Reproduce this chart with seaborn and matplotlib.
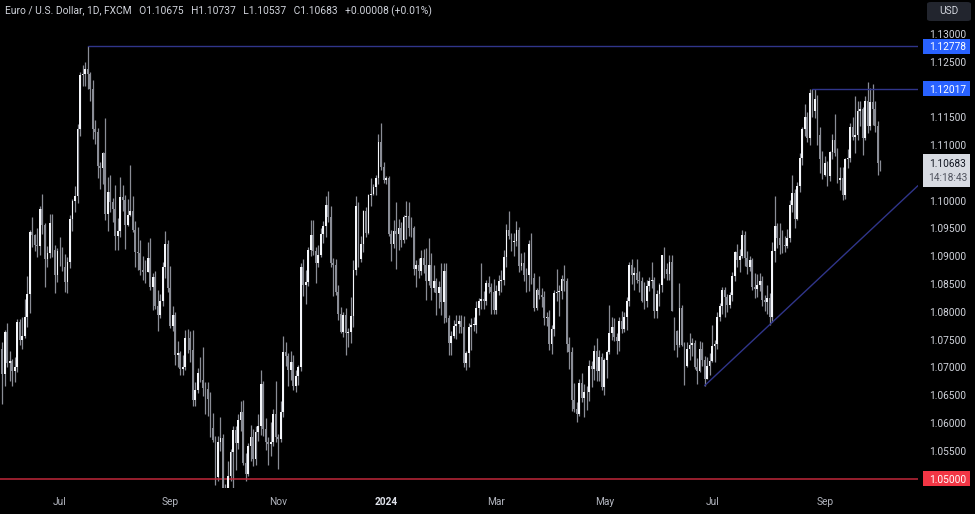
import numpy as np
import pandas as pd
import matplotlib.pyplot as plt
import matplotlib.transforms as mtransforms
from matplotlib.patches import Rectangle, FancyBboxPatch
import seaborn as sns

# EUR/USD daily candles (FXCM), one row per weekday from 31 May 2023 to 2 Oct 2024
opens = [
    1.0733,
    1.0689, 1.0763, 1.0708, 1.0712, 1.0693, 1.0700, 1.0782, 1.0749, 1.0757, 1.0791, 1.0832, 1.0943, 1.0938, 1.0921, 1.0918, 1.0985, 1.0956, 1.0895, 1.0905, 1.0960, 1.0912, 1.0866,
    1.0909, 1.0910, 1.0881, 1.0854, 1.0889, 1.0967, 1.0999, 1.1009, 1.1129, 1.1226, 1.1228, 1.1236, 1.1227, 1.1200, 1.1129, 1.1124, 1.1063, 1.1058, 1.1085, 1.0976, 1.1015,
    1.0997, 1.0985, 1.0936, 1.0946, 1.1007, 1.1002, 1.0956, 1.0975, 1.0981, 1.0947, 1.0907, 1.0905, 1.0875, 1.0871, 1.0872, 1.0896, 1.0845, 1.0862, 1.0810, 1.0795, 1.0819, 1.0880, 1.0922,
    1.0843, 1.0775, 1.0794, 1.0722, 1.0726, 1.0698, 1.0700, 1.0752, 1.0753, 1.0732, 1.0642, 1.0659, 1.0690, 1.0678, 1.0663, 1.0661, 1.0643, 1.0591, 1.0570, 1.0502, 1.0566,
    1.0573, 1.0479, 1.0467, 1.0504, 1.0548, 1.0588, 1.0564, 1.0605, 1.0620, 1.0528, 1.0508, 1.0558, 1.0575, 1.0535, 1.0584, 1.0594, 1.0670, 1.0590, 1.0565, 1.0563, 1.0566, 1.0617,
    1.0575, 1.0571, 1.0620, 1.0728, 1.0721, 1.0695, 1.0710, 1.0667, 1.0685, 1.0700, 1.0880, 1.0848, 1.0853, 1.0912, 1.0938, 1.0909, 1.0887, 1.0903, 1.0940, 1.0954, 1.0993, 1.0970,
    1.0888, 1.0884, 1.0836, 1.0796, 1.0763, 1.0794, 1.0762, 1.0763, 1.0792, 1.0876, 1.0991, 1.0895, 1.0922, 1.0981, 1.0941, 1.1010, 1.1012, 1.1025, 1.1040, 1.1105, 1.1061,
    1.1038, 1.1040, 1.0940, 1.0922, 1.0946, 1.0940, 1.0950, 1.0930, 1.0971, 1.0973, 1.0950, 1.0950, 1.0877, 1.0884, 1.0874, 1.0897, 1.0885, 1.0855, 1.0885, 1.0842, 1.0855, 1.0834, 1.0845,
    1.0818, 1.0873, 1.0789, 1.0743, 1.0756, 1.0775, 1.0778, 1.0784, 1.0772, 1.0708, 1.0725, 1.0773, 1.0777, 1.0777, 1.0807, 1.0820, 1.0823, 1.0820, 1.0851, 1.0845, 1.0835,
    1.0804, 1.0838, 1.0855, 1.0857, 1.0899, 1.0947, 1.0937, 1.0926, 1.0927, 1.0948, 1.0882, 1.0887, 1.0867, 1.0866, 1.0922, 1.0860, 1.0807, 1.0839, 1.0830, 1.0827, 1.0789,
    1.0790, 1.0742, 1.0769, 1.0834, 1.0836, 1.0838, 1.0859, 1.0856, 1.0742, 1.0728, 1.0642, 1.0625, 1.0617, 1.0672, 1.0645, 1.0655, 1.0655, 1.0703, 1.0697, 1.0729, 1.0693, 1.0719,
    1.0665, 1.0713, 1.0728, 1.0761, 1.0773, 1.0754, 1.0747, 1.0783, 1.0769, 1.0790, 1.0820, 1.0884, 1.0867, 1.0870, 1.0857, 1.0855, 1.0820, 1.0819, 1.0847, 1.0856, 1.0857, 1.0801, 1.0832,
    1.0849, 1.0902, 1.0877, 1.0868, 1.0890, 1.0775, 1.0765, 1.0741, 1.0807, 1.0741, 1.0703, 1.0733, 1.0741, 1.0744, 1.0701, 1.0693, 1.0733, 1.0714, 1.0680, 1.0702,
    1.0711, 1.0739, 1.0742, 1.0790, 1.0811, 1.0840, 1.0826, 1.0813, 1.0830, 1.0865, 1.0907, 1.0893, 1.0901, 1.0938, 1.0897, 1.0881, 1.0893, 1.0845, 1.0841, 1.0848, 1.0855, 1.0821, 1.0818,
    1.0825, 1.0790, 1.0910, 1.0954, 1.0932, 1.0921, 1.0920, 1.0918, 1.0933, 1.0993, 1.1013, 1.0967, 1.1027, 1.1076, 1.1129, 1.1150, 1.1113, 1.1193, 1.1161, 1.1183, 1.1119, 1.1075,
    1.1047, 1.1068, 1.1045, 1.1088, 1.1110, 1.1085, 1.1038, 1.1040, 1.1010, 1.1075, 1.1076, 1.1133, 1.1115, 1.1118, 1.1162, 1.1164, 1.1112, 1.1180, 1.1135, 1.1178, 1.1164,
    1.1135, 1.10675,
]
highs = [
    1.0746,
    1.0768, 1.0779, 1.0730, 1.0715, 1.0718, 1.0787, 1.0787, 1.0790, 1.0823, 1.0865, 1.0947, 1.0970, 1.0940, 1.0950, 1.0990, 1.1012, 1.0960, 1.0919, 1.0976, 1.0976, 1.0920, 1.0915,
    1.0935, 1.0916, 1.0904, 1.0899, 1.0975, 1.1003, 1.1026, 1.1138, 1.1232, 1.1244, 1.1249, 1.12778, 1.1231, 1.1217, 1.1145, 1.1130, 1.1069, 1.1088, 1.1149, 1.1042, 1.1046,
    1.1005, 1.1028, 1.0968, 1.1042, 1.1028, 1.1010, 1.1003, 1.1065, 1.1009, 1.0963, 1.0953, 1.0930, 1.0900, 1.0893, 1.0926, 1.0932, 1.0870, 1.0874, 1.0840, 1.0832, 1.0890, 1.0945, 1.0930,
    1.0882, 1.0810, 1.0799, 1.0748, 1.0730, 1.0722, 1.0767, 1.0769, 1.0765, 1.0768, 1.0674, 1.0699, 1.0719, 1.0736, 1.0674, 1.0674, 1.0655, 1.0618, 1.0577, 1.0577, 1.0610,
    1.0580, 1.0490, 1.0532, 1.0553, 1.0594, 1.0595, 1.0616, 1.0640, 1.0641, 1.0546, 1.0564, 1.0596, 1.0590, 1.0595, 1.0616, 1.0695, 1.0676, 1.0609, 1.0574, 1.0602, 1.0625, 1.0675,
    1.0580, 1.0639, 1.0756, 1.0745, 1.0726, 1.0730, 1.0722, 1.0696, 1.0705, 1.0887, 1.0895, 1.0875, 1.0917, 1.0965, 1.0965, 1.0917, 1.0920, 1.0950, 1.0964, 1.1009, 1.1017, 1.0991,
    1.0896, 1.0895, 1.0848, 1.0808, 1.0800, 1.0806, 1.0771, 1.0826, 1.0894, 1.1009, 1.0998, 1.0937, 1.0984, 1.0988, 1.1012, 1.1040, 1.1030, 1.1046, 1.1120, 1.1139, 1.1070,
    1.1045, 1.1045, 1.0947, 1.0965, 1.0998, 1.0967, 1.0962, 1.0975, 1.0999, 1.0998, 1.0970, 1.0954, 1.0894, 1.0897, 1.0912, 1.0913, 1.0915, 1.0932, 1.0905, 1.0885, 1.0860, 1.0855, 1.0888,
    1.0888, 1.0888, 1.0795, 1.0765, 1.0786, 1.0794, 1.0794, 1.0794, 1.0793, 1.0729, 1.0780, 1.0788, 1.0790, 1.0820, 1.0825, 1.0888, 1.0838, 1.0857, 1.0864, 1.0852, 1.0859,
    1.0849, 1.0866, 1.0875, 1.0912, 1.0958, 1.0981, 1.0942, 1.0941, 1.0963, 1.0952, 1.0906, 1.0907, 1.0878, 1.0929, 1.0942, 1.0870, 1.0843, 1.0865, 1.0843, 1.0838, 1.0799,
    1.0803, 1.0777, 1.0840, 1.0877, 1.0849, 1.0867, 1.0885, 1.0861, 1.0755, 1.0736, 1.0672, 1.0638, 1.0680, 1.0690, 1.0670, 1.0666, 1.0713, 1.0712, 1.0740, 1.0753, 1.0732, 1.0725,
    1.0716, 1.0732, 1.0812, 1.0790, 1.0789, 1.0761, 1.0790, 1.0802, 1.0800, 1.0827, 1.0890, 1.0895, 1.0881, 1.0895, 1.0874, 1.0863, 1.0853, 1.0858, 1.0862, 1.0889, 1.0862, 1.0840, 1.0852,
    1.0903, 1.0916, 1.0888, 1.0902, 1.0902, 1.0790, 1.0768, 1.0852, 1.0813, 1.0745, 1.0745, 1.0761, 1.0753, 1.0749, 1.0717, 1.0748, 1.0745, 1.0720, 1.0718, 1.0725,
    1.0776, 1.0750, 1.0799, 1.0816, 1.0845, 1.0845, 1.0832, 1.0835, 1.0872, 1.0910, 1.0922, 1.0913, 1.0948, 1.0945, 1.0910, 1.0901, 1.0896, 1.0869, 1.0868, 1.0870, 1.0865, 1.0830, 1.0848,
    1.0833, 1.0926, 1.1008, 1.0960, 1.0960, 1.0948, 1.0936, 1.0949, 1.1001, 1.1047, 1.1021, 1.1034, 1.1085, 1.1133, 1.1174, 1.1159, 1.1200, 1.12017, 1.1200, 1.1190, 1.1133, 1.1090,
    1.1080, 1.1071, 1.1090, 1.1120, 1.1155, 1.1095, 1.1061, 1.1060, 1.1077, 1.1093, 1.1140, 1.1150, 1.1189, 1.1180, 1.1180, 1.1168, 1.1188, 1.1214, 1.1202, 1.1209, 1.1180,
    1.1144, 1.10737,
]
lows = [
    1.0635,
    1.0666, 1.0701, 1.0676, 1.0667, 1.0674, 1.0692, 1.0741, 1.0733, 1.0752, 1.0773, 1.0797, 1.0916, 1.0909, 1.0898, 1.0902, 1.0940, 1.0844, 1.0880, 1.0897, 1.0898, 1.0834, 1.0854,
    1.0882, 1.0873, 1.0835, 1.0834, 1.0878, 1.0945, 1.0980, 1.0995, 1.1117, 1.1207, 1.1207, 1.1200, 1.1180, 1.1111, 1.1102, 1.1041, 1.1021, 1.1030, 1.0966, 1.0945, 1.0980,
    1.0962, 1.0912, 1.0912, 1.0935, 1.0981, 1.0913, 1.0954, 1.0972, 1.0944, 1.0881, 1.0876, 1.0866, 1.0857, 1.0852, 1.0872, 1.0839, 1.0804, 1.0805, 1.0765, 1.0788, 1.0810, 1.0860, 1.0835,
    1.0771, 1.0765, 1.0705, 1.0700, 1.0686, 1.0687, 1.0695, 1.0725, 1.0710, 1.0631, 1.0631, 1.0654, 1.0674, 1.0649, 1.0616, 1.0613, 1.0575, 1.0566, 1.0488, 1.0496, 1.0549,
    1.0466, 1.0448, 1.0464, 1.0496, 1.0482, 1.0515, 1.0553, 1.0585, 1.0525, 1.0495, 1.0505, 1.0532, 1.0522, 1.0525, 1.0567, 1.0578, 1.0576, 1.0551, 1.0524, 1.0540, 1.0558, 1.0565,
    1.0517, 1.0566, 1.0611, 1.0702, 1.0667, 1.0677, 1.0660, 1.0656, 1.0668, 1.0694, 1.0828, 1.0814, 1.0846, 1.0900, 1.0903, 1.0851, 1.0880, 1.0898, 1.0924, 1.0935, 1.0962, 1.0880,
    1.0828, 1.0830, 1.0786, 1.0761, 1.0754, 1.0723, 1.0737, 1.0744, 1.0773, 1.0867, 1.0880, 1.0890, 1.0907, 1.0935, 1.0940, 1.0990, 1.1010, 1.1010, 1.1030, 1.1055, 1.1032,
    1.1030, 1.0937, 1.0892, 1.0915, 1.0877, 1.0911, 1.0916, 1.0923, 1.0931, 1.0937, 1.0935, 1.0866, 1.0844, 1.0860, 1.0866, 1.0870, 1.0822, 1.0849, 1.0822, 1.0836, 1.0795, 1.0807, 1.0795,
    1.0780, 1.0781, 1.0723, 1.0722, 1.0752, 1.0751, 1.0761, 1.0761, 1.0701, 1.0695, 1.0700, 1.0731, 1.0765, 1.0761, 1.0795, 1.0805, 1.0805, 1.0812, 1.0833, 1.0796, 1.0796,
    1.0796, 1.0830, 1.0835, 1.0849, 1.0880, 1.0931, 1.0910, 1.0900, 1.0919, 1.0872, 1.0876, 1.0855, 1.0836, 1.0838, 1.0850, 1.0802, 1.0803, 1.0823, 1.0808, 1.0776, 1.0774,
    1.0731, 1.0724, 1.0756, 1.0820, 1.0792, 1.0823, 1.0837, 1.0728, 1.0698, 1.0622, 1.0620, 1.0601, 1.0612, 1.0637, 1.0610, 1.0623, 1.0640, 1.0665, 1.0678, 1.0676, 1.0675, 1.0660,
    1.0650, 1.0681, 1.0724, 1.0750, 1.0747, 1.0724, 1.0729, 1.0762, 1.0764, 1.0767, 1.0811, 1.0850, 1.0840, 1.0851, 1.0836, 1.0818, 1.0805, 1.0809, 1.0837, 1.0843, 1.0788, 1.0789, 1.0810,
    1.0836, 1.0860, 1.0858, 1.0858, 1.0801, 1.0732, 1.0719, 1.0737, 1.0738, 1.0668, 1.0700, 1.0714, 1.0720, 1.0698, 1.0671, 1.0692, 1.0702, 1.0667, 1.0680, 1.0687,
    1.0710, 1.0710, 1.0733, 1.0784, 1.0796, 1.0791, 1.0800, 1.0806, 1.0820, 1.0855, 1.0880, 1.0872, 1.0897, 1.0883, 1.0868, 1.0873, 1.0839, 1.0825, 1.0826, 1.0838, 1.0810, 1.0802, 1.0796,
    1.0777, 1.0781, 1.0890, 1.0915, 1.0904, 1.0905, 1.0908, 1.0914, 1.0926, 1.0980, 1.0950, 1.0965, 1.1015, 1.1065, 1.1116, 1.1105, 1.1101, 1.1151, 1.1148, 1.1101, 1.1050, 1.1039,
    1.1045, 1.1026, 1.1035, 1.1075, 1.1080, 1.1031, 1.1020, 1.1002, 1.1003, 1.1058, 1.1070, 1.1110, 1.1085, 1.1110, 1.1135, 1.1083, 1.1110, 1.1122, 1.1127, 1.1136, 1.1123,
    1.1046, 1.10537,
]
closes = [
    1.0689,
    1.0763, 1.0708, 1.0712, 1.0693, 1.0700, 1.0782, 1.0749, 1.0757, 1.0791, 1.0832, 1.0943, 1.0938, 1.0921, 1.0918, 1.0985, 1.0956, 1.0895, 1.0905, 1.0960, 1.0912, 1.0866, 1.0909,
    1.0910, 1.0881, 1.0854, 1.0889, 1.0967, 1.0999, 1.1009, 1.1129, 1.1226, 1.1228, 1.1236, 1.1227, 1.1200, 1.1129, 1.1124, 1.1063, 1.1058, 1.1085, 1.0976, 1.1015, 1.0997,
    1.0985, 1.0936, 1.0946, 1.1007, 1.1002, 1.0956, 1.0975, 1.0981, 1.0947, 1.0907, 1.0905, 1.0875, 1.0871, 1.0872, 1.0896, 1.0845, 1.0862, 1.0810, 1.0795, 1.0819, 1.0880, 1.0922, 1.0843,
    1.0775, 1.0794, 1.0722, 1.0726, 1.0698, 1.0700, 1.0752, 1.0753, 1.0732, 1.0642, 1.0659, 1.0690, 1.0678, 1.0663, 1.0661, 1.0643, 1.0591, 1.0570, 1.0502, 1.0566, 1.0573,
    1.0479, 1.0467, 1.0504, 1.0548, 1.0588, 1.0564, 1.0605, 1.0620, 1.0528, 1.0508, 1.0558, 1.0575, 1.0535, 1.0584, 1.0594, 1.0670, 1.0590, 1.0565, 1.0563, 1.0566, 1.0617, 1.0575,
    1.0571, 1.0620, 1.0728, 1.0721, 1.0695, 1.0710, 1.0667, 1.0685, 1.0700, 1.0880, 1.0848, 1.0853, 1.0912, 1.0938, 1.0909, 1.0887, 1.0903, 1.0940, 1.0954, 1.0993, 1.0970, 1.0888,
    1.0884, 1.0836, 1.0796, 1.0763, 1.0794, 1.0762, 1.0763, 1.0792, 1.0876, 1.0991, 1.0895, 1.0922, 1.0981, 1.0941, 1.1010, 1.1012, 1.1025, 1.1040, 1.1105, 1.1061, 1.1038,
    1.1040, 1.0940, 1.0922, 1.0946, 1.0940, 1.0950, 1.0930, 1.0971, 1.0973, 1.0950, 1.0950, 1.0877, 1.0884, 1.0874, 1.0897, 1.0885, 1.0855, 1.0885, 1.0842, 1.0855, 1.0834, 1.0845, 1.0818,
    1.0873, 1.0789, 1.0743, 1.0756, 1.0775, 1.0778, 1.0784, 1.0772, 1.0708, 1.0725, 1.0773, 1.0777, 1.0777, 1.0807, 1.0820, 1.0823, 1.0820, 1.0851, 1.0845, 1.0835, 1.0804,
    1.0838, 1.0855, 1.0857, 1.0899, 1.0947, 1.0937, 1.0926, 1.0927, 1.0948, 1.0882, 1.0887, 1.0867, 1.0866, 1.0922, 1.0860, 1.0807, 1.0839, 1.0830, 1.0827, 1.0789, 1.0790,
    1.0742, 1.0769, 1.0834, 1.0836, 1.0838, 1.0859, 1.0856, 1.0742, 1.0728, 1.0642, 1.0625, 1.0617, 1.0672, 1.0645, 1.0655, 1.0655, 1.0703, 1.0697, 1.0729, 1.0693, 1.0719, 1.0665,
    1.0713, 1.0728, 1.0761, 1.0773, 1.0754, 1.0747, 1.0783, 1.0769, 1.0790, 1.0820, 1.0884, 1.0867, 1.0870, 1.0857, 1.0855, 1.0820, 1.0819, 1.0847, 1.0856, 1.0857, 1.0801, 1.0832, 1.0849,
    1.0902, 1.0877, 1.0868, 1.0890, 1.0802, 1.0765, 1.0741, 1.0807, 1.0741, 1.0703, 1.0733, 1.0741, 1.0744, 1.0701, 1.0693, 1.0733, 1.0714, 1.0680, 1.0702, 1.0711,
    1.0739, 1.0742, 1.0790, 1.0811, 1.0840, 1.0826, 1.0813, 1.0830, 1.0865, 1.0907, 1.0893, 1.0901, 1.0938, 1.0897, 1.0881, 1.0893, 1.0845, 1.0841, 1.0848, 1.0855, 1.0821, 1.0818, 1.0825,
    1.0790, 1.0910, 1.0954, 1.0932, 1.0921, 1.0920, 1.0918, 1.0933, 1.0993, 1.1013, 1.0967, 1.1027, 1.1076, 1.1129, 1.1150, 1.1113, 1.1193, 1.1161, 1.1183, 1.1119, 1.1075, 1.1047,
    1.1068, 1.1045, 1.1088, 1.1110, 1.1085, 1.1038, 1.1040, 1.1010, 1.1075, 1.1076, 1.1133, 1.1115, 1.1118, 1.1162, 1.1164, 1.1112, 1.1180, 1.1135, 1.1178, 1.1164, 1.1135,
    1.1067, 1.10683,
]

dates = pd.bdate_range("2023-05-31", periods=len(closes))

month_labels = ["Jul", "Sep", "Nov", "2024", "Mar", "May", "Jul", "Sep"]
month_starts = ["2023-07-03", "2023-09-01", "2023-11-01", "2024-01-01",
                "2024-03-01", "2024-05-01", "2024-07-01", "2024-09-02"]
price_ticks = [1.130, 1.125, 1.115, 1.110, 1.100, 1.095, 1.090, 1.085,
               1.080, 1.075, 1.070, 1.065, 1.060, 1.055]

resistance_high = 1.12778
resistance_low = 1.12017
support = 1.05000
resistance_low_start = "2024-08-26"
trend_anchor_dates = ["2024-06-26", "2024-08-01"]
countdown = "14:18:43"
header_title = "Euro / U.S. Dollar, 1D, FXCM"
header_change = "+0.00008 (+0.01%)"

sns.set_theme(style="dark", rc={"axes.facecolor": "#000000", "figure.facecolor": "#000000"})
plt.rcParams["font.family"] = ["Roboto", "DejaVu Sans"]

W, H = 975, 514
fig = plt.figure(figsize=(W / 100, H / 100), dpi=100)
ax = fig.add_axes([0, 26 / H, 918 / W, 488 / H])
ax.set_facecolor("#000000")
for s in ax.spines.values():
    s.set_visible(False)
ax.grid(False)

df = pd.DataFrame({"date": dates, "open": opens, "high": highs, "low": lows, "close": closes})
df["x"] = np.arange(len(df))
up = (df["close"] >= df["open"]).to_numpy()

# candles: wicks then bodies
ax.vlines(df["x"], df["low"], df["high"], color="#8a8d96", linewidth=0.9, zorder=2)
body = (df["close"] - df["open"]).abs().clip(lower=0.00005)
ax.bar(df["x"], body, bottom=df[["open", "close"]].min(axis=1), width=0.72,
       color=np.where(up, "#f4f6fa", "#8a8d96"), linewidth=0, zorder=3)

xmin, xmax = -0.9, 365.1
ymin, ymax = 1.0483, 1.1361
ax.set_xlim(xmin, xmax)
ax.set_ylim(ymin, ymax)

# key levels and trendline
line_col = "#30358a"
top_x = int(df["high"].idxmax())
mid_x = int(df.index[df["date"] == pd.Timestamp(resistance_low_start)][0])
sns.lineplot(x=[top_x, xmax], y=[resistance_high, resistance_high], ax=ax, color=line_col, lw=1)
sns.lineplot(x=[mid_x, xmax], y=[resistance_low, resistance_low], ax=ax, color=line_col, lw=1)
sns.lineplot(x=[xmin, xmax], y=[support, support], ax=ax, color="#c0283a", lw=1.1)

ta = [dates.get_loc(pd.Timestamp(d)) for d in trend_anchor_dates]
tp = [lows[i] for i in ta]
slope = (tp[1] - tp[0]) / (ta[1] - ta[0])
sns.lineplot(x=[ta[0], xmax], y=[tp[0], tp[0] + slope * (xmax - ta[0])], ax=ax, color=line_col, lw=1)

# right price scale
ax.yaxis.tick_right()
ax.set_yticks(price_ticks)
ax.set_yticklabels([f"{v:.5f}" for v in price_ticks])
ax.tick_params(axis="y", length=0, pad=21.6, labelsize=7.3, labelcolor="#d1d4dc")
for lab in ax.get_yticklabels():
    lab.set_horizontalalignment("center")
ax.set_xticks([])
ax.set_xlabel("")
ax.set_ylabel("")

trans = mtransforms.blended_transform_factory(ax.transAxes, ax.transData)
ppx = (ymax - ymin) / 488


def price_box(value, text, fc, tc):
    ax.add_patch(Rectangle((923 / 918, value - 7.5 * ppx), 47 / 918, 15 * ppx, transform=trans,
                           fc=fc, ec="none", clip_on=False, zorder=5))
    ax.text(948 / 918, value, text, transform=trans, ha="center", va="center_baseline",
            color=tc, fontsize=7.3, clip_on=False, zorder=6)


price_box(resistance_high, f"{resistance_high:.5f}", "#2962ff", "#ffffff")
price_box(resistance_low, f"{resistance_low:.5f}", "#2962ff", "#ffffff")
price_box(support, f"{support:.5f}", "#f23645", "#ffffff")

last = closes[-1]
ax.add_patch(Rectangle((923 / 918, last - 24 * ppx), 47 / 918, 33 * ppx, transform=trans,
                       fc="#d8dbe2", ec="none", clip_on=False, zorder=5))
ax.text(948 / 918, last, f"{last:.5f}", transform=trans, ha="center", va="center_baseline",
        color="#131722", fontsize=7.3, clip_on=False, zorder=6)
ax.text(948 / 918, last - 14 * ppx, countdown, transform=trans, ha="center", va="center_baseline",
        color="#50535e", fontsize=7.3, clip_on=False, zorder=6)

# time axis labels
tx = mtransforms.blended_transform_factory(ax.transData, ax.transAxes)
for lab, d in zip(month_labels, month_starts):
    pos = dates.get_loc(pd.Timestamp(d))
    bold = lab.isdigit()
    ax.text(pos, -14 / 488, lab, transform=tx, ha="center", va="center", fontsize=7.3,
            color="#e0e3eb" if bold else "#b2b5be", fontweight="bold" if bold else "normal",
            clip_on=False)

# header legend, sized to span the same width as the original (5 px to 433 px)
ohlc = [f"O{opens[-1]:.5f}", f"H{highs[-1]:.5f}", f"L{lows[-1]:.5f}", f"C{closes[-1]:.5f}", header_change]
header = "   ".join([header_title] + ohlc)
ht = fig.text(5 / W, 1 - 11 / H, header, color="#d1d4dc", fontsize=8, va="center")
renderer = fig.canvas.get_renderer()
ht.set_fontsize(8 * 428 / ht.get_window_extent(renderer).width)

# currency badge
fig.add_artist(FancyBboxPatch((927 / W, 1 - 21 / H), 44 / W, 19 / H,
                              boxstyle="round,pad=0,rounding_size=0.004",
                              transform=fig.transFigure, fc="#22252e", ec="none"))
fig.text(949 / W, 1 - 11 / H, "USD", color="#d1d4dc", fontsize=7.3, ha="center", va="center")

fig.savefig("out.png", dpi=100, facecolor="#000000")
